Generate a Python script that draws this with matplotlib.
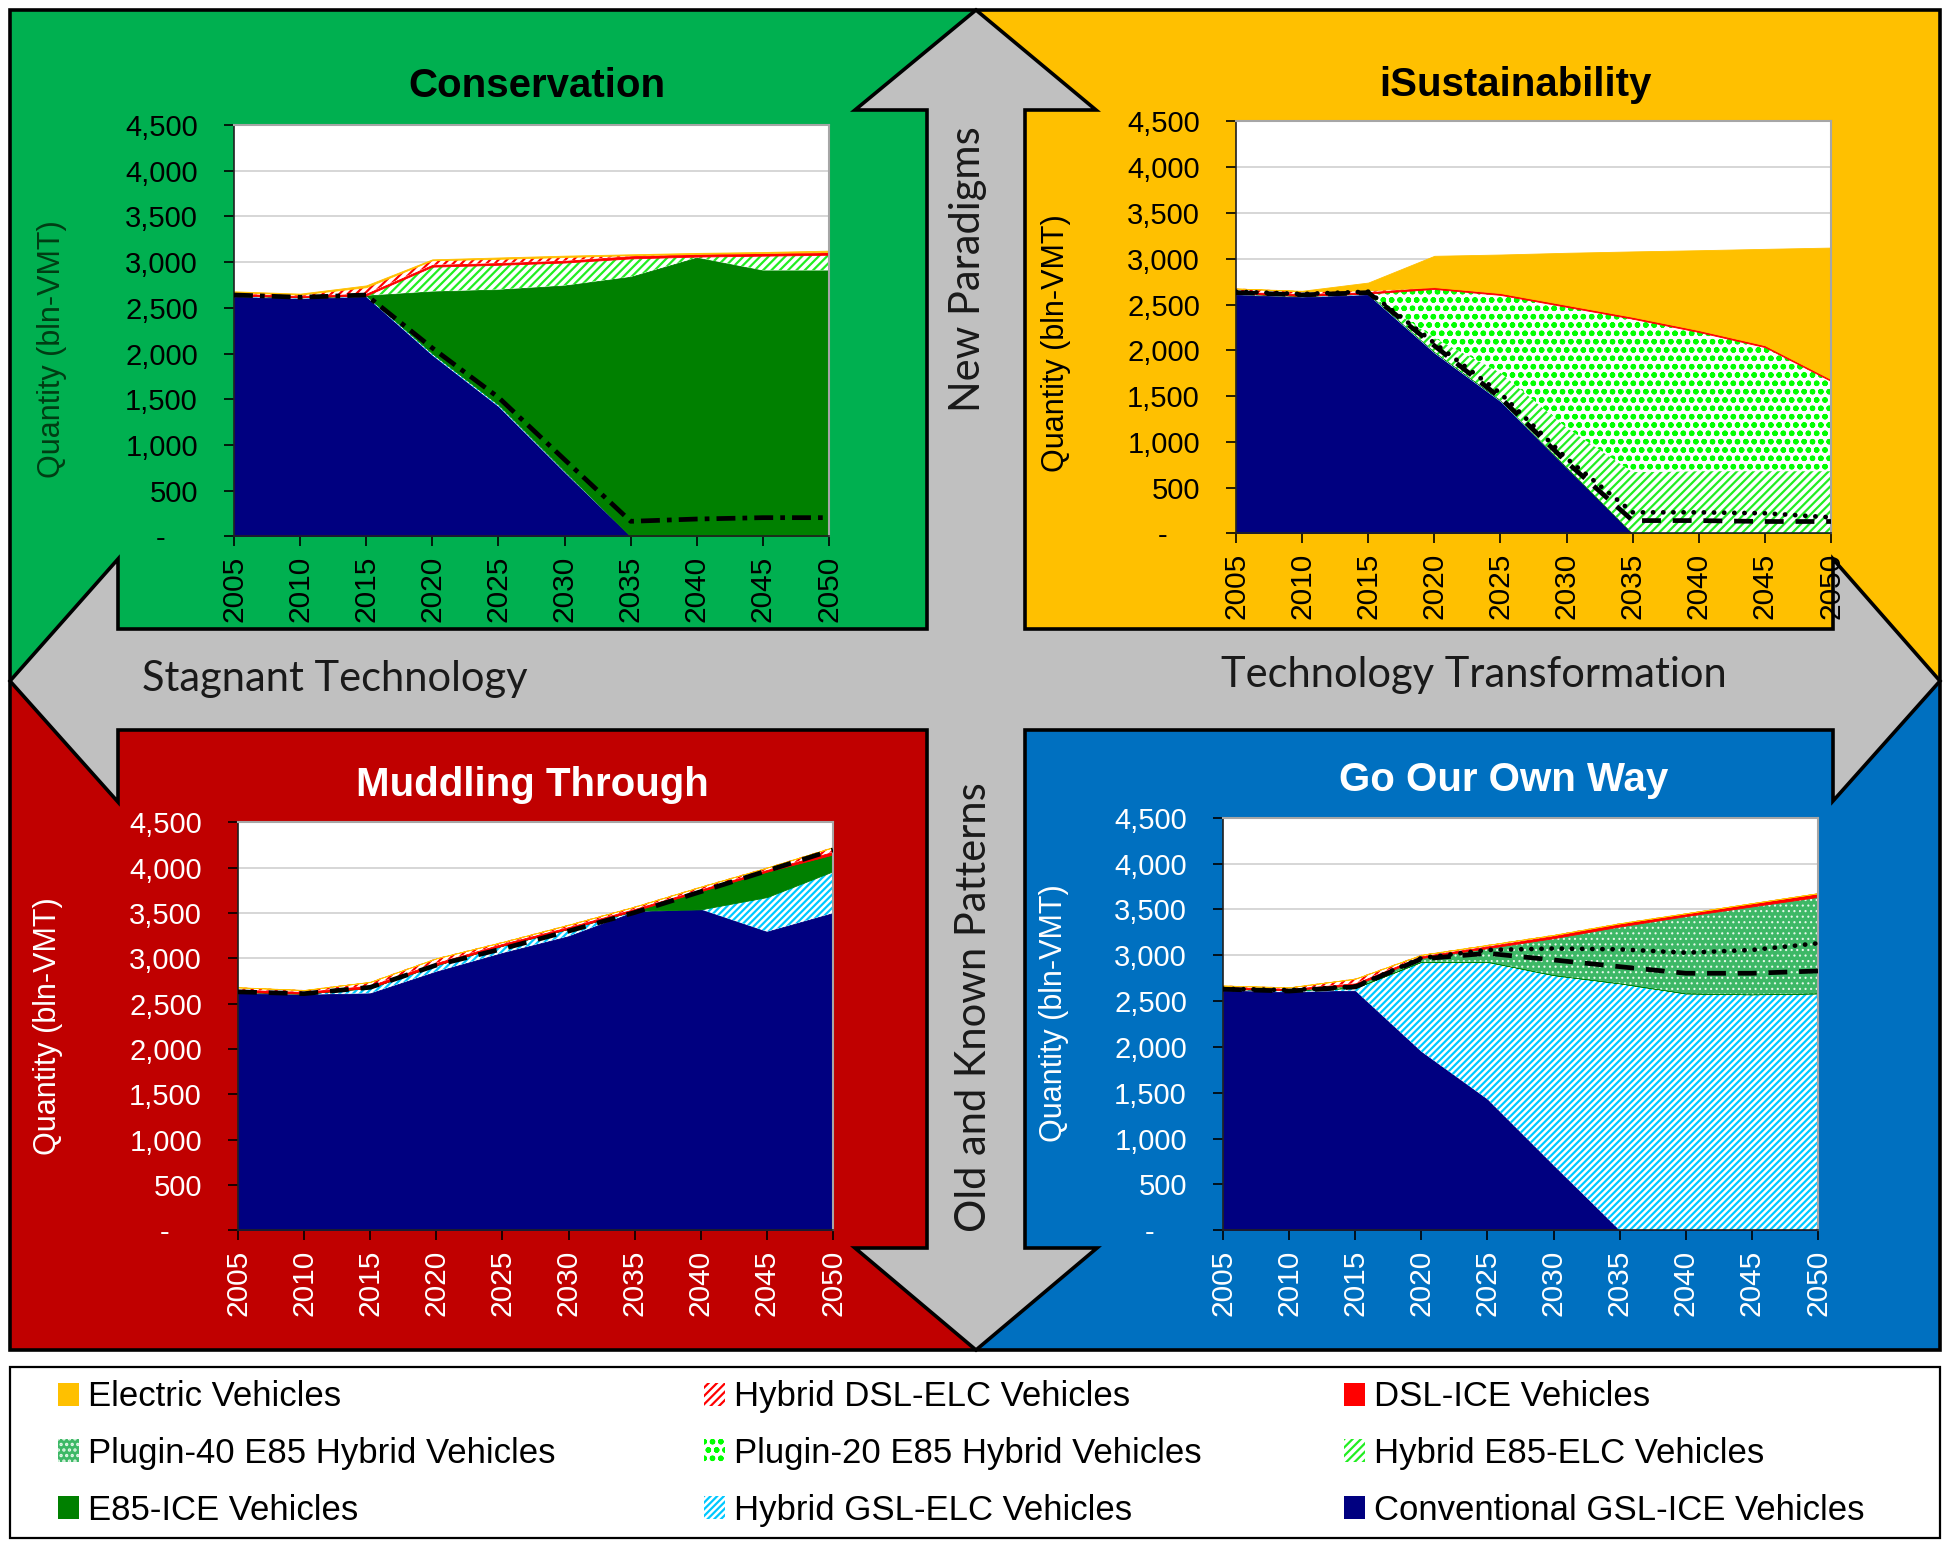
# Four-scenario VMT chart (stacked areas) inside a quadrant / cross-arrow frame.
import numpy as np
import matplotlib
matplotlib.use("Agg")
import matplotlib.pyplot as plt
from matplotlib.patches import Polygon, Rectangle, Patch
from matplotlib.ticker import FuncFormatter, MultipleLocator

plt.rcParams["font.family"] = ["Liberation Sans", "DejaVu Sans"]
plt.rcParams["hatch.linewidth"] = 1.6

# ---------------------------------------------------------------- data
years = [2005, 2010, 2015, 2020, 2025, 2030, 2035, 2040, 2045, 2050]

series_names = [
    "Conventional GSL-ICE Vehicles", "Hybrid GSL-ELC Vehicles", "E85-ICE Vehicles",
    "Hybrid E85-ELC Vehicles", "Plugin-20 E85 Hybrid Vehicles",
    "Plugin-40 E85 Hybrid Vehicles", "DSL-ICE Vehicles", "Hybrid DSL-ELC Vehicles",
    "Electric Vehicles",
]

# Conservation
cons_gsl_ice = [2620, 2600, 2620, 1980, 1420, 700, 0, 0, 0, 0]
cons_hyb_gsl = [15, 15, 15, 20, 20, 15, 0, 0, 0, 0]
cons_e85_ice = [0, 0, 0, 680, 1260, 2030, 2840, 3050, 2910, 2910]
cons_hyb_e85 = [0, 0, 0, 270, 270, 250, 200, 10, 160, 170]
cons_plug20 = [0, 0, 0, 0, 0, 0, 0, 0, 0, 0]
cons_plug40 = [0, 0, 0, 0, 0, 0, 0, 0, 0, 0]
cons_dsl_ice = [20, 15, 20, 20, 20, 20, 25, 25, 25, 25]
cons_hyb_dsl = [15, 15, 70, 50, 45, 40, 10, 5, 5, 5]
cons_elec = [10, 10, 20, 10, 15, 15, 10, 10, 10, 15]
cons_dashdot = [2640, 2615, 2640, 2060, 1520, 840, 165, 190, 205, 205]

# iSustainability
isus_gsl_ice = [2605, 2580, 2605, 1970, 1440, 715, 0, 0, 0, 0]
isus_hyb_gsl = [15, 15, 15, 15, 15, 10, 0, 0, 0, 0]
isus_e85_ice = [0, 0, 0, 0, 0, 0, 0, 0, 0, 0]
isus_hyb_e85 = [0, 0, 0, 150, 300, 430, 670, 680, 680, 680]
isus_plug20 = [0, 0, 0, 535, 850, 1320, 1675, 1520, 1355, 985]
isus_plug40 = [0, 0, 0, 0, 0, 0, 0, 0, 0, 0]
isus_dsl_ice = [20, 20, 15, 20, 20, 20, 20, 20, 20, 20]
isus_hyb_dsl = [35, 30, 20, 0, 0, 0, 0, 0, 0, 0]
isus_elec = [0, 5, 85, 342, 421, 570, 715, 873, 1053, 1437]
isus_dashed = [2630, 2605, 2630, 2050, 1480, 780, 140, 140, 130, 130]
isus_dotted = [2640, 2615, 2640, 2080, 1530, 820, 230, 230, 220, 175]

# Muddling Through
mud_gsl_ice = [2615, 2600, 2615, 2855, 3060, 3245, 3515, 3540, 3295, 3500]
mud_hyb_gsl = [15, 10, 60, 70, 80, 80, 10, 0, 380, 460]
mud_e85_ice = [0, 0, 0, 0, 0, 0, 0, 200, 280, 185]
mud_hyb_e85 = [0, 0, 0, 0, 0, 0, 0, 0, 0, 0]
mud_plug20 = [0, 0, 0, 0, 0, 0, 0, 0, 0, 0]
mud_plug40 = [0, 0, 0, 0, 0, 0, 0, 0, 0, 0]
mud_dsl_ice = [25, 20, 25, 25, 20, 20, 20, 20, 20, 30]
mud_hyb_dsl = [25, 20, 40, 50, 20, 25, 25, 30, 25, 50]
mud_elec = [0, 0, 0, 0, 0, 0, 0, 0, 0, 0]
mud_dashed = [2630, 2610, 2680, 2925, 3105, 3300, 3505, 3735, 3965, 4195]

# Go Our Own Way
goow_gsl_ice = [2615, 2600, 2615, 1950, 1430, 710, 0, 0, 0, 0]
goow_hyb_gsl = [20, 20, 30, 980, 1500, 2075, 2695, 2585, 2575, 2585]
goow_e85_ice = [0, 0, 0, 0, 0, 0, 0, 0, 0, 0]
goow_hyb_e85 = [0, 0, 0, 0, 0, 0, 0, 0, 0, 0]
goow_plug20 = [0, 0, 0, 0, 0, 0, 0, 0, 0, 0]
goow_plug40 = [0, 0, 30, 40, 148, 402, 619, 843, 958, 1052]
goow_dsl_ice = [20, 15, 20, 20, 20, 25, 30, 30, 35, 40]
goow_hyb_dsl = [15, 15, 50, 15, 15, 10, 5, 0, 0, 0]
goow_elec = [0, 0, 0, 0, 0, 0, 0, 0, 0, 0]
goow_dotted = [2635, 2620, 2660, 2970, 3058, 3074, 3065, 3029, 3058, 3131]
goow_dashed = [2630, 2610, 2655, 2960, 3022, 2949, 2876, 2804, 2804, 2829]

# ---------------------------------------------------------------- styles
# (face, hatch colour, hatch, hatch width) for each layer, bottom to top
layer_style = [
    ("#000080", "#000080", None, None),
    ("white", "#00C8FF", "/////", 1.6),
    ("#008000", "#008000", None, None),
    ("white", "#22EE22", "////", 1.6),
    ("white", "#00FF00", "oo", 1.6),
    ("#3DB866", "#E6F8EA", "...", 0.8),
    ("#FF0000", "#FF0000", None, None),
    ("white", "#FF0000", "////", 1.6),
    ("#FFC000", "#FFC000", None, None),
]


def set_hatch_width(artist, width):
    # per-artist hatch width where the installed matplotlib supports it
    if width is not None and hasattr(artist, "set_hatch_linewidth"):
        artist.set_hatch_linewidth(width)


W, H = 1950, 1543
fig = plt.figure(figsize=(W / 100, H / 100), dpi=100)

# background frame drawn in pixel coordinates
bg = fig.add_axes([0, 0, 1, 1])
bg.set_xlim(0, W)
bg.set_ylim(H, 0)
bg.axis("off")

cx, cy = 976, 681.5
bg.add_patch(Rectangle((10, 10), cx - 10, cy - 10, color="#00B050", lw=0))
bg.add_patch(Rectangle((cx, 10), 1940 - cx, cy - 10, color="#FFC000", lw=0))
bg.add_patch(Rectangle((10, cy), cx - 10, 1350 - cy, color="#C00000", lw=0))
bg.add_patch(Rectangle((cx, cy), 1940 - cx, 1350 - cy, color="#0070C0", lw=0))

arrow = [
    (976, 10), (1096, 110), (1025, 110), (1025, 629), (1833, 629), (1833, 559),
    (1940, 681), (1833, 801), (1833, 730), (1025, 730), (1025, 1248), (1097, 1248),
    (976, 1350), (855, 1248), (927, 1248), (927, 730), (118, 730), (118, 802),
    (10, 681), (118, 559), (118, 629), (927, 629), (927, 110), (855, 110),
]
bg.add_patch(Polygon(arrow, closed=True, facecolor="#C0C0C0", edgecolor="black",
                     lw=2.6, joinstyle="miter"))
bg.add_patch(Rectangle((10, 10), 1930, 1340, fill=False, edgecolor="black", lw=2.6))
bg.add_patch(Rectangle((10, 1367), 1930, 171, facecolor="white", edgecolor="black", lw=1.6))

arrow_font = dict(family=["Lato", "DejaVu Sans"], fontsize=30, color="#1A1A1A",
                  ha="center", va="center")
bg.text(968, 269, "New Paradigms", rotation=90, **arrow_font)
bg.text(974, 1007, "Old and Known Patterns", rotation=90, **arrow_font)
bg.text(335, 679, "Stagnant Technology", **arrow_font)
bg.text(1474, 675, "Technology Transformation", **arrow_font)


def draw_panel(rect, title, title_xy, title_color, tick_color, label_color,
               label_xy, layers, lines):
    ax = fig.add_axes(rect, zorder=2)
    polys = ax.stackplot(years, *layers)
    for poly, (face, edge, hatch, hw) in zip(polys, layer_style):
        poly.set_facecolor(face)
        poly.set_edgecolor(edge)
        if hatch:
            poly.set_hatch(hatch)
            poly.set_linewidth(0)
            set_hatch_width(poly, hw)
        else:
            poly.set_linewidth(0.6)
    for vals, style in lines:
        if style == "dotted":
            ax.plot(years, vals, color="black", lw=3.4, linestyle=(0, (0.05, 2.1)),
                    dash_capstyle="round", zorder=5)
        elif style == "dashed":
            ax.plot(years, vals, color="black", lw=3.4, linestyle=(0, (4, 2.5)), zorder=5)
        else:
            ax.plot(years, vals, color="black", lw=3.4, linestyle=(0, (4, 1.5, 1, 1.5)),
                    zorder=5)

    ax.set_xlim(2005, 2050)
    ax.set_ylim(0, 4500)
    ax.set_facecolor("white")
    ax.set_axisbelow(True)
    ax.yaxis.set_major_locator(MultipleLocator(500))
    ax.yaxis.set_major_formatter(
        FuncFormatter(lambda v, _: "-    " if v == 0 else f"{int(v):,}"))
    ax.set_xticks(years)
    ax.set_xticklabels([str(y) for y in years], rotation=90)
    ax.grid(axis="y", color="#D0D0D0", lw=1.2)
    ax.tick_params(axis="y", direction="out", length=7, width=1.2, pad=19,
                   labelsize=21, colors="black", labelcolor=tick_color)
    ax.tick_params(axis="x", direction="out", length=7, width=1.2, pad=7,
                   labelsize=21.5, colors="black", labelcolor=tick_color)
    for side in ("left", "bottom"):
        ax.spines[side].set_color("#202020")
        ax.spines[side].set_linewidth(1.2)
    for side in ("top", "right"):
        ax.spines[side].set_color("#A6A6A6")
        ax.spines[side].set_linewidth(1.5)
    ax.set_ylabel("Quantity (bln-VMT)", fontsize=22, color=label_color)
    ax.yaxis.set_label_coords(*label_xy)
    fig.text(title_xy[0] / W, 1 - title_xy[1] / H, title, fontsize=29,
             fontweight="bold", color=title_color, ha="center", va="center", zorder=3)
    return ax


draw_panel([234 / W, 1 - 536.4 / H, 595 / W, 411.5 / H], "Conservation", (537, 86),
           "black", "black", "#003D14", (-0.281, 0.455),
           [cons_gsl_ice, cons_hyb_gsl, cons_e85_ice, cons_hyb_e85, cons_plug20,
            cons_plug40, cons_dsl_ice, cons_hyb_dsl, cons_elec],
           [(cons_dashdot, "dashdot")])

draw_panel([1236 / W, 1 - 533.4 / H, 595 / W, 412 / H], "iSustainability", (1515, 85),
           "black", "black", "black", (-0.277, 0.461),
           [isus_gsl_ice, isus_hyb_gsl, isus_e85_ice, isus_hyb_e85, isus_plug20,
            isus_plug40, isus_dsl_ice, isus_hyb_dsl, isus_elec],
           [(isus_dashed, "dashed"), (isus_dotted, "dotted")])

draw_panel([238 / W, 1 - 1230.3 / H, 595 / W, 408 / H], "Muddling Through", (532, 785),
           "white", "white", "white", (-0.294, 0.5),
           [mud_gsl_ice, mud_hyb_gsl, mud_e85_ice, mud_hyb_e85, mud_plug20,
            mud_plug40, mud_dsl_ice, mud_hyb_dsl, mud_elec],
           [(mud_dashed, "dashed")])

draw_panel([1223 / W, 1 - 1230.3 / H, 595 / W, 412.5 / H], "Go Our Own Way", (1504, 780),
           "white", "white", "white", (-0.259, 0.527),
           [goow_gsl_ice, goow_hyb_gsl, goow_e85_ice, goow_hyb_e85, goow_plug20,
            goow_plug40, goow_dsl_ice, goow_hyb_dsl, goow_elec],
           [(goow_dotted, "dotted"), (goow_dashed, "dashed")])

# ---------------------------------------------------------------- legend (row-major)
handles = {}
for name, (face, edge, hatch, hw) in zip(series_names, layer_style):
    handles[name] = Patch(facecolor=face, edgecolor=edge, hatch=hatch, lw=0)
    set_hatch_width(handles[name], hw)

legend_cols = [
    ["Electric Vehicles", "Plugin-40 E85 Hybrid Vehicles", "E85-ICE Vehicles"],
    ["Hybrid DSL-ELC Vehicles", "Plugin-20 E85 Hybrid Vehicles", "Hybrid GSL-ELC Vehicles"],
    ["DSL-ICE Vehicles", "Hybrid E85-ELC Vehicles", "Conventional GSL-ICE Vehicles"],
]
for col_x, names in zip([58, 704, 1344], legend_cols):
    fig.legend([handles[n] for n in names], names, loc="center left",
               bbox_to_anchor=(col_x / W, 1 - 1453.5 / H), frameon=False, fontsize=25,
               handlelength=0.6, handleheight=0.65, handletextpad=0.25,
               labelspacing=0.68, borderpad=0, borderaxespad=0)

fig.savefig("out.png", dpi=100)
